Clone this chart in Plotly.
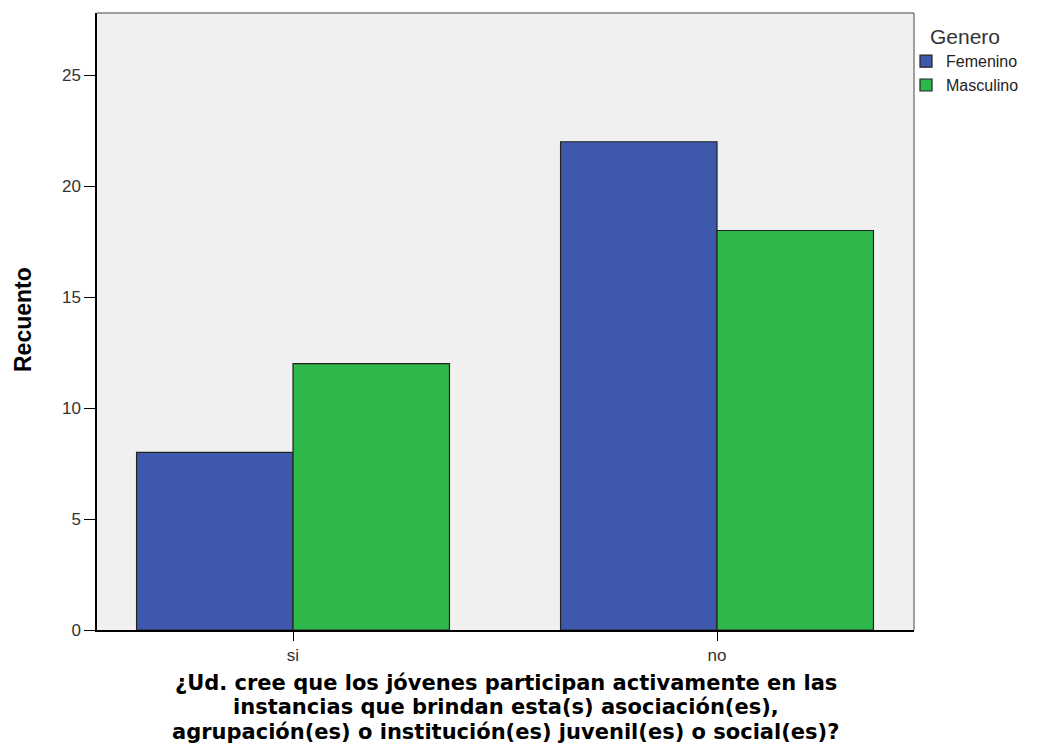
import plotly.graph_objects as go

categories = ["si", "no"]
femenino = [8, 22]
masculino = [12, 18]
series_names = ["Femenino", "Masculino"]
y_ticks = [0, 5, 10, 15, 20, 25]
x_title_lines = [
    "¿Ud. cree que los jóvenes participan activamente en las",
    "instancias que brindan esta(s) asociación(es),",
    "agrupación(es) o institución(es) juvenil(es) o social(es)?",
]

BLUE = "#3E58AC"
GREEN = "#2EB84A"
BG = "#F0F0F0"

fig = go.Figure()
for name, vals, col in [(series_names[0], femenino, BLUE), (series_names[1], masculino, GREEN)]:
    fig.add_trace(go.Bar(
        x=categories, y=vals, name=name,
        marker=dict(color=col, line=dict(color="#222222", width=1.2)),
    ))

W, H = 1039, 745
L, R, T, B = 97, 125, 13, 115
ph = H - T - B
pw = W - L - R

def py(ypx):
    return (H - B - ypx) / ph

def px(xpx):
    return (xpx - L) / pw

tick_font = dict(family="Liberation Sans, Arial, sans-serif", size=17, color="#333333")

fig.update_layout(
    width=W, height=H,
    margin=dict(l=L, r=R, t=T, b=B),
    paper_bgcolor="white",
    plot_bgcolor=BG,
    barmode="group",
    bargap=0.262,
    bargroupgap=0,
    showlegend=True,
    legend=dict(
        x=px(906), y=py(17), xanchor="left", yanchor="top",
        bgcolor="rgba(0,0,0,0)",
        font=dict(family="Liberation Sans, Arial, sans-serif", size=16, color="#222222"),
        title=dict(text="Genero", side="top center",
                   font=dict(family="Liberation Sans, Arial, sans-serif", size=21, color="#333333")),
        tracegroupgap=0,
        itemwidth=30,
    ),
    xaxis=dict(
        range=[-0.4623, 1.4646],
        showline=True, linecolor="black", linewidth=1.5,
        ticks="outside", ticklen=9, tickcolor="black", tickwidth=1.2,
        tickfont=tick_font, showgrid=False, zeroline=False,
    ),
    yaxis=dict(
        range=[0, 27.8],
        tickvals=y_ticks,
        showline=True, linecolor="black", linewidth=1.5,
        ticks="outside", ticklen=11, tickcolor="black", tickwidth=1.2,
        tickfont=tick_font, showgrid=False, zeroline=False,
    ),
    shapes=[
        dict(type="line", xref="paper", yref="paper", x0=0, x1=1, y0=1, y1=1,
             line=dict(color="#808080", width=1.5)),
        dict(type="line", xref="paper", yref="paper", x0=1, x1=1, y0=0, y1=1,
             line=dict(color="#808080", width=1.5)),
    ],
)

annotations = [
    dict(text="<b>Recuento</b>", xref="paper", yref="paper", x=px(23), y=py(320),
         xanchor="center", yanchor="middle", textangle=-90, showarrow=False,
         font=dict(family="Liberation Sans, Arial, sans-serif", size=23, color="black")),
]
baselines = [690, 714.5, 739]
for line, bl in zip(x_title_lines, baselines):
    annotations.append(dict(
        text="<b>" + line + "</b>", xref="paper", yref="paper",
        x=0.5, y=py(bl - 7.3), xanchor="center", yanchor="middle",
        showarrow=False,
        font=dict(family="DejaVu Sans, Verdana, sans-serif", size=21, color="black"),
    ))
fig.update_layout(annotations=annotations)

fig.write_html(
    "out.html",
    config={"displayModeBar": False},
    post_script="document.body.style.margin='0px';document.body.style.overflow='hidden';",
)
